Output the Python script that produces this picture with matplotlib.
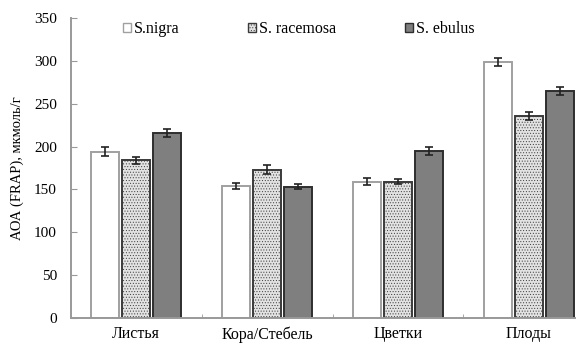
import numpy as np
import matplotlib
matplotlib.use('Agg')
import matplotlib.pyplot as plt

categories = ['Листья', 'Кора/Стебель', 'Цветки', 'Плоды']
species = ['S.nigra', 'S. racemosa', 'S. ebulus']
nigra = [194, 154, 159, 299]
racemosa = [184, 173, 159, 236]
ebulus = [216, 153, 195, 265]
nigra_err = [5, 4, 4, 5]
racemosa_err = [4, 5, 3, 5]
ebulus_err = [5, 3, 5, 5]

plt.rcParams['font.family'] = ['Liberation Serif', 'DejaVu Serif']
plt.rcParams['hatch.color'] = '#b4b4b4'
plt.rcParams['hatch.linewidth'] = 0.4

fig = plt.figure(figsize=(5.76, 3.49), dpi=100)
ax = fig.add_axes([0.123, 0.089, 0.877, 0.859])

x = np.arange(len(categories))
w = 0.214
step = 0.237
styles = [
    dict(color='white', edgecolor='#a0a0a0', linewidth=1.4),
    dict(color='#e2e2e2', edgecolor='#3a3a3a', linewidth=1.4, hatch='......'),
    dict(color='#7f7f7f', edgecolor='#2e2e2e', linewidth=1.4),
]
series = [(nigra, nigra_err), (racemosa, racemosa_err), (ebulus, ebulus_err)]
for i, ((vals, errs), st) in enumerate(zip(series, styles)):
    ax.bar(x + (i - 1) * step, vals, w, yerr=errs, capsize=3,
           error_kw=dict(ecolor='#222222', elinewidth=1.2, capthick=1.2),
           label=species[i], **st)

ax.set_ylim(0, 350)
ax.set_yticks(range(0, 351, 50))
ax.set_xlim(-0.5, 3.36)
ax.set_xticks(x)
ax.set_xticklabels(categories, fontsize=11.5)
ax.set_xticks(np.arange(0.5, 3.0, 1.0), minor=True)
ax.tick_params(axis='x', which='major', length=0, pad=6)
ax.tick_params(axis='x', which='minor', direction='in', length=3, color='#999999')
ax.tick_params(axis='y', direction='in', length=4, color='#999999', labelsize=11, pad=10)
for s in ['top', 'right']:
    ax.spines[s].set_visible(False)
for s in ['left', 'bottom']:
    ax.spines[s].set_color('#999999')
    ax.spines[s].set_linewidth(1.4)

ax.set_ylabel('АОА (FRAP), мкмоль/г', fontsize=10.5, labelpad=7)

leg = fig.legend(ncol=3, loc='upper left', bbox_to_anchor=(0.213, 0.94), frameon=False,
                 fontsize=11.5, handlelength=0.5, handleheight=0.5, handletextpad=0.2,
                 columnspacing=4.3, borderpad=0, borderaxespad=0)
for h in leg.legend_handles:
    h.set_linewidth(1.0)

fig.savefig('out.png', dpi=100)
